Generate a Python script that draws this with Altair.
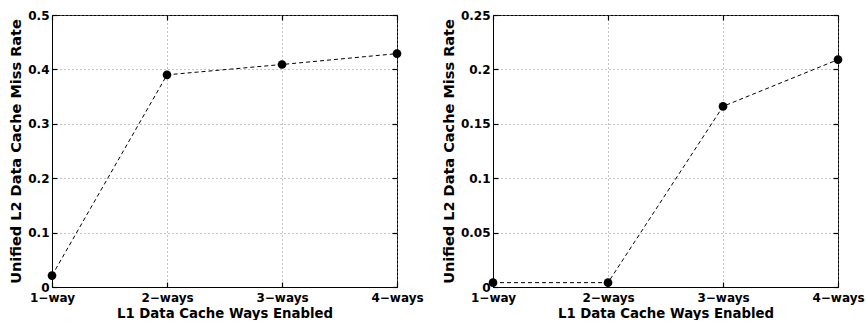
import altair as alt
import pandas as pd

ways = [1, 2, 3, 4]
way_labels = ["1−way", "2−ways", "3−ways", "4−ways"]
left_miss = [0.021, 0.390, 0.409, 0.429]
right_miss = [0.004, 0.004, 0.166, 0.209]

FONT = "DejaVu Sans"
label_expr = "datum.value == 1 ? '1−way' : datum.value == 2 ? '2−ways' : datum.value == 3 ? '3−ways' : '4−ways'"


def panel(values, ymax, ystep, yfmt):
    df = pd.DataFrame({"ways": ways, "label": way_labels, "miss": values})
    yticks = [round(i * ystep, 4) for i in range(int(round(ymax / ystep)) + 1)]
    xscale = alt.Scale(domain=[1, 4], nice=False, zero=False)
    yscale = alt.Scale(domain=[0, ymax], nice=False)

    def tick_axis(orient, vals):
        return alt.Axis(
            orient=orient, values=vals, offset=-5, tickSize=5, tickColor="black",
            tickWidth=1.2, labels=False, domain=False, grid=False, title=None,
        )

    x_main = alt.X("ways:Q", scale=xscale, axis=alt.Axis(
        orient="bottom", values=ways, labelExpr=label_expr,
        title="L1 Data Cache Ways Enabled", grid=True, tickSize=0,
        titleFontSize=13.3))
    y_main = alt.Y("miss:Q", scale=yscale, axis=alt.Axis(
        orient="left", values=yticks, format=yfmt,
        title="Unified L2 Data Cache Miss Rate", grid=True, tickSize=0,
        titleFontSize=14.5))

    base = alt.Chart(df)
    line = base.mark_line(color="black", strokeWidth=1, strokeDash=[4, 3]).encode(
        x=x_main, y=y_main)
    ticks_bl = base.mark_point(opacity=0).encode(
        x=alt.X("ways:Q", scale=xscale, axis=tick_axis("bottom", ways)),
        y=alt.Y("miss:Q", scale=yscale, axis=tick_axis("left", yticks)))
    pts = base.mark_point(filled=True, color="black", opacity=1, size=75).encode(
        x=alt.X("ways:Q", scale=xscale, axis=tick_axis("top", ways)),
        y=alt.Y("miss:Q", scale=yscale, axis=tick_axis("right", yticks)))
    return (
        alt.layer(line, ticks_bl, pts)
        .resolve_scale(x="independent", y="independent")
        .resolve_axis(x="independent", y="independent")
        .properties(width=345, height=272)
    )


left = panel(left_miss, 0.5, 0.1, "~g")
right = panel(right_miss, 0.25, 0.05, "~g")

chart = (
    alt.hconcat(left, right, spacing=16)
    .properties(padding={"left": 8, "top": 8, "right": 0, "bottom": 0})
    .configure_view(stroke="black", strokeWidth=1)
    .configure_axis(
        labelFont=FONT,
        titleFont=FONT,
        labelFontSize=12,
        titleFontSize=12,
        labelFontWeight="bold",
        titleFontWeight="bold",
        labelColor="black",
        titleColor="black",
        domainColor="black",
        tickColor="black",
        labelPadding=3,
        titlePadding=4,
        gridColor="#888888",
        gridDash=[1, 3],
        gridWidth=1,
    )
    .configure_axisX(labelPadding=5, titlePadding=3, labelFlush=False)
    .configure_axisY(labelFlush=False)
)

chart.save("out.html", embed_options={"renderer": "svg", "actions": False})
